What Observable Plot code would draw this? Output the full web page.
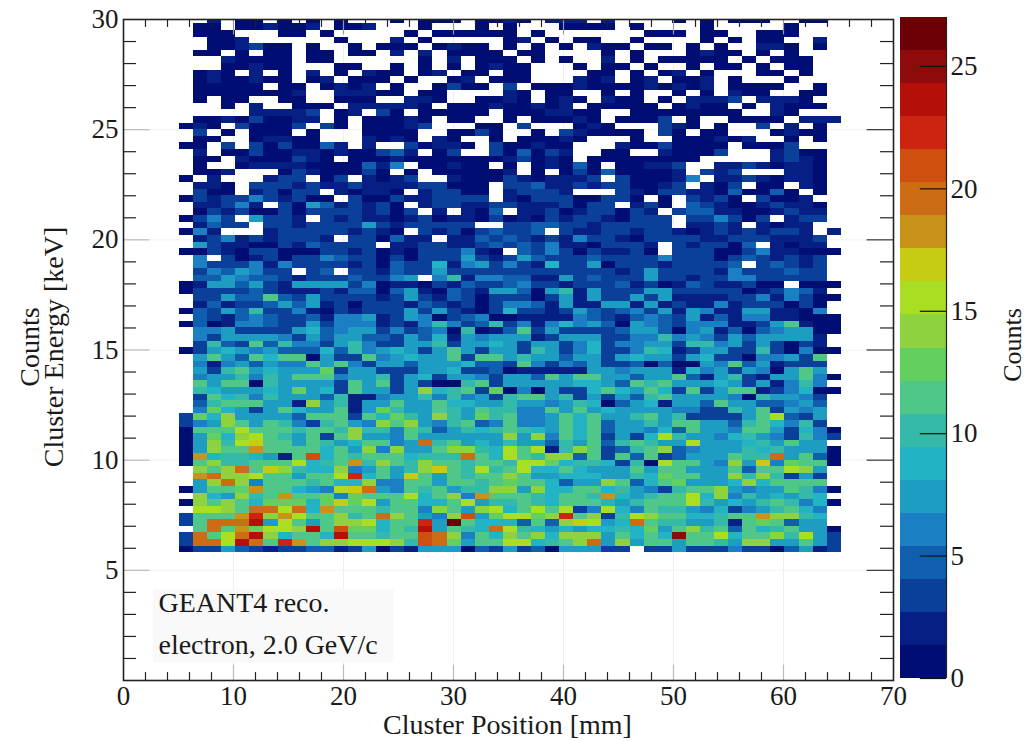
<!DOCTYPE html>
<html>
<head>
<meta charset="utf-8">
<script src="https://cdn.jsdelivr.net/npm/d3@7"></script>
<script src="https://cdn.jsdelivr.net/npm/@observablehq/plot@0.6"></script>
<style>
html,body{margin:0;padding:0;background:#fff;}
#chart{position:relative;width:1034px;height:741px;overflow:hidden;}
#chart svg{position:absolute;top:0;background:transparent;}
</style>
</head>
<body>
<div id="chart"></div>
<script>
// Histogram bins
const xStart = 5.09, xBin = 1.28, yStart = 5.8, yBin = 0.3;
// Counts per cell, top row first. "." = empty, 1-9, a=10 ... q=26. 47 columns, 81 rows.
const countRows = [
"..2.1 1.1.1 .1... 1.111 .1121 .222. 2.... 1.1.1 11..1 1.",
".11.1 12112 .112. ..1.. .1.1. ..111 1.1.. ..1.. ...1. ..",
".111. ..11. 1.... .1.11 1111. 1.... ...11 1.11. .111. ..",
"..112 ..... .1... 2.1.. ...12 .1.11 ..1.. ..1.1 .11.. 2.",
"..112 311.1 ..1.1 11.12 11.1. 1.1.2 11.11 .1.1. .221. 1.",
".11.1 .11.1 1.11. 2.2.1 111.1 1.... 1.1.. .1211 .1.1. ..",
"...21 111.1 1.... ..1.2 .111. 1.1.. 2.1.1 1111. 1.111 ..",
"...11 211.. .11.. 1.1.1 .1211 ...1. 11.1. .1.11 .1.11 ..",
".121. 2.1.2 .1.21 1.12. 11.11 ....1 1.1.1 2.1.. .11.1 ..",
".1211 211.1 2.111 .1..1 2.111 ...21 2.12. 112.1 ...1. ..",
".1111 1.11. 1212. 1..13 11.4. 11121 11121 212.1 111.. 1.",
".1111 1112. .2221 1.11. ...21 .11.. 1.1.. 1.1.2 11..1 1.",
".1.11 ..11. .111. .221. .1121 .121. 211.1 .2224 .2221 ..",
"...1. 2..11 1.222 221.1 11211 212.1 1111. 1211. 1.211 1.",
"..... 22223 .12.3 1.111 11.11 12211 ..111 11111 ..21. ..",
".1121 31122 .1.11 121.1 1..1. 11121 .1113 .1..1 111.2 22",
"121.4 1113. 31.11 123.. .11.3 ...12 1...3 21.1. .3.2. 1.",
".3.1. 111.1 ...11 11..1 131.. 1.321 111.3 1.11. ..121 1.",
".11.. 12211 ...21 21.21 ..1.1 1121. ..1.. 11121 2..1. 1.",
"11.3. 31311 52.2. .3122 1.311 211.. .2113 1111. 1113. ..",
".2.11 31122 12113 52.13 ..415 132.. 11..2 1114. ..231 1.",
".11.2 11132 1.111 21111 11123 121.1 11111 11... ..232 1.",
".1..1 22221 11152 6.112 11.1. 12151 .1122 3..22 32122 1.",
".112. ..132 11141 .1.11 1112. 1.131 51111 2.323 ...22 1.",
"1.2.. .233. 13.21 23..2 11142 12223 .3111 26.22 32122 1.",
".221. 33323 22322 22331 11.33 52232 33112 3.213 .11.2 1.",
".311. 23133 .2122 1.243 11.23 332.. .3213 32215 1151. 1.",
"14233 63231 1.311 32233 33.21 33311 331.1 .3231 .3112 ..",
".2236 2.317 52323 1.233 22332 22313 3.241 .5321 12322 1.",
".1323 11313 33323 13.2. 215.2 23123 3132. 45522 11232 2.",
"1363. 7332. 32322 12312 21312 13233 21333 .3363 14.23 3.",
".2533 .3324 34373 23434 3..33 55332 33343 .2232 .2122 ..",
"162.. .2333 43232 1.323 13533 5.322 33233 21242 32342 .2",
".2462 32433 2.331 522.2 25453 23263 32133 33224 33222 3.",
".7422 11425 3443. 22432 23545 36221 3342. 42331 5.212 2.",
"11321 33111 43231 21333 621.5 36313 2231. 33311 46221 11",
".6.31 23143 65331 31334 74247 53335 33336 33313 53232 3.",
".6333 62633 44231 54492 67363 29337 13342 33335 .3542 3.",
".4657 633.3 5.332 54474 43334 34334 32383 33426 43353 3.",
".5576 55323 33533 68.6a 26655 22735 33373 32336 63333 3.",
"12775 83277 77361 22132 53356 33234 35231 25322 411.1 11",
"13333 53222 32551 58215 32775 17a27 33377 33333 12365 2.",
".3385 5b537 33332 37325 31333 13727 33738 22223 36263 11",
".2523 35757 23133 32532 31366 52722 77272 32262 33313 1.",
"15375 a3362 13233 37373 21393 32375 35637 27622 78221 6.",
".5325 65335 26672 37613 56112 22265 32565 38252 66221 11",
"15126 65337 36662 326a6 35a36 26967 51765 36662 237b2 11",
".6673 33379 56773 63561 a125b 37333 35775 16725 15677 11",
".6377 77637 57855 37592 76787 23788 3366a 67637 57877 2.",
".3a53 b5a66 38a63 377a3 77973 87369 36677 3aa67 37313 2.",
"13797 67555 95a67 9737b 73783 a7369 336a9 23883 3a316 11",
".7b85 b9bb1 733b6 7978b 3bb7a 78588 37988 38933 16673 b.",
".6267 5866b 7b637 75777 9553b 63658 33515 1176b 57233 3.",
".83ab 79888 d3773 33879 33512 22228 86778 29683 8618b 7.",
".678a 6a7cc c688a 37937 76377 5c7bb 87577 c527a 3287b 61",
".b7bc 1a877 73b7b 37311 ab377 77899 75bab 87797 3726a 6.",
".a978 797d8 93b88 38e9a b3d16 17339 b97b9 3b37c c2369 11",
".3c9a 6a777 5a226 77a6a 673ab b8a37 375ac 88776 1a776 3.",
".5abb b882e 8a277 b77b9 988a8 868a9 15792 785b7 75568 5.",
".6d98 37b98 7c27d a87ca 7baa6 6b7b7 97778 6633a 8b376 8.",
"3d9e8 7875b bb3c9 da7ea 7dab6 67c9b 78ab7 a3333 7bf53 7.",
"368eb 7ca63 ab76e ce76a b56b6 67b9b 588a7 cb775 ab96a 3.",
"1bccf cccac baeaa 6ba57 a9aca 97b9c 57869 5b776 bb739 61",
"17d9e gba8b 3ce87 6c787 787e8 e6b9b 3739f a8769 a863a 63",
"18eag hbb7c a79bc 67kab 897a8 75a8b 5aba8 8g777 9a8c8 8.",
"18ebc ibbbc 9b7e6 e77be ea9gb f2aec 35abe 56788 a9a88 81",
"1i9aa 972bl 9cabc b9aaa kb9fb aee5b 3b5b3 5777b aak7c 51",
"1ceaa bbcg9 aciae caecb acbaf fd9aa 93a1f bb86e 8h6dc b1",
".ecej chea9 9e67b 8aehb agabf 99b97 77b8b c778b 5cbfe 8.",
".ikee fbb8b cfm9b 8hb7b abceb 88999 88a9d bb87e aea37 3.",
".7eke 6cbca b99e6 6bb8b babdc c9577 eb59b d7789 e9bbb b.",
"18bbd ibb98 6ghk7 6bab7 aaee7 e99cc 9a763 abbe8 688ba 61",
".e97e abibb d6dbb cg9ce 6ibcb a9bca i98ab bf9e6 a898a 9.",
"1eceb 9ddd9 dhdg7 bb99c g7aab a9ccc 97abb bga79 8aba6 91",
".ggeb jkfk9 ibbca bb6ec 7eg9b fcg36 g96ca a8693 68ac9 6.",
"3bbbi meifc ceack eb76e l7dff dembe 3ageb b99ab bieea 9.",
"3bkkk n7gb8 ceeg9 bbm7q b9995 b5ehg 79kca a87a2 bdb58 8.",
".bkci dgfeo bldd9 bao8c a9jga 98989 9a9d8 beab5 b9ab8 81",
"3kbgk ne9bb 9nbba bblke 6b9eb e9eee 7b9c9 pccg9 cbeag 73",
"3kkgn kbmib eegff ealkd 8bbfg 9abek 7e7bb 7bba8 ee78b 73",
"13375 32335 52371 32877 15373 51777 33.33 73336 33157 23"
];
// Colour bands of the palette, lowest first; band width on the count axis
const bandWidth = 1.35;
const bandColors = ["#000d72","#051f85","#0a3f9a","#0f5fae","#1b7fc4","#1e9dc2","#22b3c4","#35b9a8",
  "#4fc788","#63cf5f","#8ed23f","#aade22","#c8cb14","#c9921a","#cc6c14","#cf4f10","#cc2410","#b50f0a","#8f0a0a","#6b0006"];
const xTickLabels = [0,10,20,30,40,50,60,70];
const yTickLabels = [5,10,15,20,25,30];
const countTicks = [0,5,10,15,20,25];
const xMinor = d3.range(2,70,2).filter(d => d % 10);
const yMinor = d3.range(1,30).filter(d => d % 5);
const boxLines = ["GEANT4 reco.","electron, 2.0 GeV/c"];

const cells = [];
countRows.forEach((row, k) => {
  const s = row.replace(/ /g,"");
  if (s.length !== 47) throw new Error("row "+k+" has "+s.length);
  [...s].forEach((ch, i) => {
    if (ch === ".") return;
    const r = countRows.length - 1 - k;
    cells.push({x1:xStart+i*xBin, x2:xStart+(i+1)*xBin, y1:yStart+r*yBin, y2:yStart+(r+1)*yBin, v:parseInt(ch,36)});
  });
});
const bands = bandColors.map((c,i)=>({y1:i*bandWidth,y2:(i+1)*bandWidth,c}));
const thresholds = bandColors.slice(1).map((c,i)=>(i+1)*bandWidth);

const serif = "'Liberation Serif', serif";
const ink = "#1a1a1a";
const tickSize = 27, titleSize = 28;

const main = Plot.plot({
  width: 925, height: 741,
  marginLeft: 123, marginRight: 32, marginTop: 19, marginBottom: 61,
  style: {fontFamily: serif, fontSize: "24px", color: ink, background: "transparent"},
  x: {domain: [0,70]},
  y: {domain: [0,30]},
  color: {type: "threshold", domain: thresholds, range: bandColors},
  marks: [
    Plot.ruleX(xTickLabels.slice(1,-1), {stroke:"#efefef", strokeWidth:1}),
    Plot.ruleY(yTickLabels.slice(0,-1), {stroke:"#f2f2f2", strokeWidth:1}),
    Plot.rect(cells, {x1:"x1", x2:"x2", y1:"y1", y2:"y2", fill:"v", clip:true, inset:0, shapeRendering:"crispEdges"}),
    // annotation box
    Plot.rect([0], {x1:2.73, x2:24.6, y1:0.82, y2:4.14, fill:"#f9f9f9"}),
    Plot.text([boxLines[0]], {x:3.18, y:3.5, text:d=>d, textAnchor:"start", fontSize:titleSize, fill:ink}),
    Plot.text([boxLines[1]], {x:3.18, y:1.62, text:d=>d, textAnchor:"start", fontSize:titleSize, fill:ink}),
    // inside ticks on all four sides
    Plot.ruleX(xMinor, {y1:0, y2:0.36, stroke:"#222", strokeWidth:1.2}),
    Plot.ruleX(xMinor, {y1:29.64, y2:30, stroke:"#222", strokeWidth:1.2}),
    Plot.ruleX(xTickLabels.slice(1,-1), {y1:0, y2:0.7, stroke:"#bbb", strokeWidth:1.2}),
    Plot.ruleX(xTickLabels.slice(1,-1), {y1:29.3, y2:30, stroke:"#999", strokeWidth:1.2}),
    Plot.ruleY(yMinor, {x1:0, x2:1.18, stroke:"#222", strokeWidth:1.2}),
    Plot.ruleY(yMinor, {x1:68.82, x2:70, stroke:"#222", strokeWidth:1.2}),
    Plot.ruleY(yTickLabels.slice(0,-1), {x1:0, x2:2.4, stroke:"#bbb", strokeWidth:1.2}),
    Plot.ruleY(yTickLabels.slice(0,-1), {x1:67.6, x2:70, stroke:"#333", strokeWidth:1.2}),
    Plot.frame({stroke:"#222", strokeWidth:1.6}),
    Plot.axisX(xTickLabels, {tickSize:0, tickPadding:5, label:null, fontSize:tickSize, fill:ink}),
    Plot.text(["Cluster Position [mm]"], {frameAnchor:"bottom", dy:45, dx:-1, lineAnchor:"middle", text:d=>d, fontSize:titleSize, fill:ink}),
    Plot.axisY(yTickLabels, {tickSize:0, tickPadding:5, label:null, fontSize:tickSize, fill:ink}),
    Plot.text(["Counts"], {frameAnchor:"left", textAnchor:"middle", dx:-93, dy:-3, rotate:-90, text:d=>d, fontSize:titleSize, fill:ink}),
    Plot.text(["Cluster Energy [keV]"], {frameAnchor:"left", textAnchor:"middle", dx:-69, dy:-3, rotate:-90, text:d=>d, fontSize:titleSize, fill:ink})
  ]
});
main.style.left = "0px";

const bar = Plot.plot({
  width: 134, height: 741,
  marginLeft: 0, marginRight: 88, marginTop: 17, marginBottom: 63,
  style: {fontFamily: serif, fontSize: "24px", color: ink, background: "transparent"},
  x: {domain:[0,1], axis:null},
  y: {domain:[0,27]},
  marks: [
    Plot.rect(bands, {x1:0, x2:1, y1:"y1", y2:"y2", fill:"c", shapeRendering:"crispEdges"}),
    Plot.ruleY(countTicks, {x1:0.43, x2:1, stroke:"#111", strokeWidth:1.2}),
    Plot.ruleX([1], {stroke:"#222", strokeWidth:1.2}),
    Plot.axisY(countTicks, {anchor:"right", tickSize:0, tickPadding:4, label:null, fontSize:tickSize, fill:ink}),
    Plot.text(["Counts"], {frameAnchor:"right", textAnchor:"middle", dx:66, dy:-3, rotate:-90, text:d=>d, fontSize:titleSize-2, fill:ink})
  ]
});
bar.style.left = "900px";

const host = document.getElementById("chart");
host.append(main, bar);
</script>
</body>
</html>
